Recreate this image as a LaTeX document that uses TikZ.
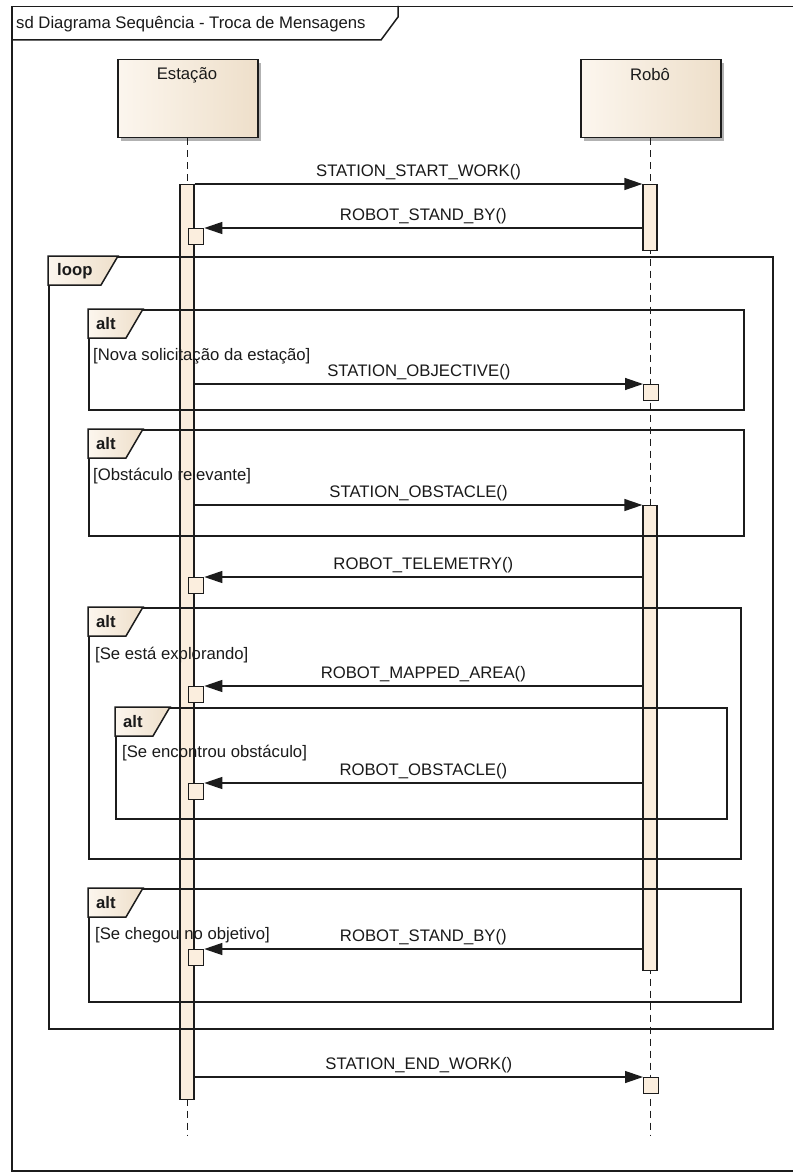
\documentclass[tikz,border=0pt]{standalone}
\usepackage{fontspec}
\setmainfont{Liberation Sans}
\usetikzlibrary{arrows.meta}
\definecolor{boxL}{HTML}{FCF6EE}
\definecolor{boxR}{HTML}{EEDFCA}
\definecolor{act}{HTML}{FBEEDE}
\definecolor{ln}{HTML}{1C1C1C}
\definecolor{txt}{HTML}{1A1A1A}
\begin{document}
\begin{tikzpicture}[x=1pt,y=-1pt,
  every node/.style={font=\fontsize{16.7}{19}\selectfont, text=txt},
  head/.style={draw=ln, line width=1.5pt, left color=boxL, right color=boxR, minimum width=140pt, minimum height=78pt, inner sep=0pt, anchor=north west},
  headshadow/.style={fill=black!30, minimum width=140pt, minimum height=78pt, inner sep=0pt, anchor=north west},
  life/.style={draw=ln, line width=1.3pt, dash pattern=on 7pt off 5pt},
  actbox/.style={draw=ln, line width=1.3pt, fill=act, minimum width=14pt, inner sep=0pt, anchor=north},
  sqbox/.style={draw=ln, line width=1.3pt, fill=act, minimum width=15pt, minimum height=16pt, inner sep=0pt, anchor=north west},
  msg/.style={draw=ln, line width=1.3pt, -{Triangle[length=18pt,width=12pt]}},
  lbl/.style={above, inner sep=3pt},
  frame/.style={draw=ln, line width=1.5pt},
  frag/.style={draw=ln, line width=1.5pt, anchor=north west, inner sep=0pt},
  tab/.style={draw=ln, line width=1.5pt, left color=boxL, right color=boxR},
  tabtxt/.style={font=\bfseries\fontsize{16.7}{19}\selectfont, anchor=west, inner sep=0pt},
  guard/.style={anchor=west, inner sep=0pt}]
\useasboundingbox (0,0) rectangle (792,1174);
\fill[white] (0,0) rectangle (792,1174);

% diagram frame (right edge lies beyond the cropped picture)
\node[frag, minimum width=790pt, minimum height=1164pt] (sd) at (11,6) {};
\draw[frame] (sd.north west |- 0,40) -- (381,40) -- (398,17) -- (398,6);
\node[anchor=west, inner sep=0pt] (title) at (16,24) {sd Diagrama Sequência - Troca de Mensagens};

% lifeline heads
\node[headshadow] (estS) at (121,63) {};
\node[head] (est) at (117,59) {};
\node[inner sep=0pt] (estT) at (187,75) {Estação};
\node[headshadow] (robS) at (584,63) {};
\node[head] (rob) at (580,59) {};
\node[inner sep=0pt] (robT) at (650,75) {Robô};

\coordinate (lend) at (0,1135);
\draw[life] (est.south) -- (est.south |- lend);
\draw[life] (rob.south) -- (rob.south |- lend);

% activations
\node[actbox, minimum height=915pt] (aE) at (187,184) {};
\node[actbox, minimum height=66pt] (aR1) at (650,184) {};
\node[actbox, minimum height=465pt] (aR2) at (650,505) {};

% fragments
\node[frag, minimum width=724pt, minimum height=772pt] (loop) at (48,256) {};
\draw[tab] (loop.north west) -- ++(70,0) -- ++(-17,29) -- ++(-53,0) -- cycle;
\node[tabtxt] (loopT) at ([xshift=9pt,yshift=-15pt]loop.north west) {loop};

\node[frag, minimum width=655pt, minimum height=100pt] (alt1) at (88,309) {};
\draw[tab] (alt1.north west) -- ++(55,0) -- ++(-17,29) -- ++(-38,0) -- cycle;
\node[tabtxt] (alt1T) at ([xshift=8pt,yshift=-15pt]alt1.north west) {alt};
\node[guard] (g1) at ([xshift=5pt,yshift=-47pt]alt1.north west) {[Nova solicitação da estação]};

\node[frag, minimum width=655pt, minimum height=106pt] (alt2) at (88,429) {};
\draw[tab] (alt2.north west) -- ++(55,0) -- ++(-17,29) -- ++(-38,0) -- cycle;
\node[tabtxt] (alt2T) at ([xshift=8pt,yshift=-15pt]alt2.north west) {alt};
\node[guard] (g2) at ([xshift=5pt,yshift=-47pt]alt2.north west) {[Obstáculo relevante]};

\node[frag, minimum width=652pt, minimum height=251pt] (alt3) at (88,607) {};
\draw[tab] (alt3.north west) -- ++(55,0) -- ++(-17,29) -- ++(-38,0) -- cycle;
\node[tabtxt] (alt3T) at ([xshift=8pt,yshift=-15pt]alt3.north west) {alt};
\node[guard] (g3) at ([xshift=7pt,yshift=-48pt]alt3.north west) {[Se está explorando]};

\node[frag, minimum width=611pt, minimum height=111pt] (alt4) at (115,707) {};
\draw[tab] (alt4.north west) -- ++(55,0) -- ++(-17,29) -- ++(-38,0) -- cycle;
\node[tabtxt] (alt4T) at ([xshift=8pt,yshift=-15pt]alt4.north west) {alt};
\node[guard] (g4) at ([xshift=7pt,yshift=-46pt]alt4.north west) {[Se encontrou obstáculo]};

\node[frag, minimum width=652pt, minimum height=113pt] (alt5) at (88,888) {};
\draw[tab] (alt5.north west) -- ++(55,0) -- ++(-17,29) -- ++(-38,0) -- cycle;
\node[tabtxt] (alt5T) at ([xshift=8pt,yshift=-15pt]alt5.north west) {alt};
\node[guard] (g5) at ([xshift=7pt,yshift=-47pt]alt5.north west) {[Se chegou no objetivo]};

% nested activation squares
\node[sqbox] (s1) at (188,228) {};
\node[sqbox] (s2) at (643,384) {};
\node[sqbox] (s3) at (188,577) {};
\node[sqbox] (s4) at (188,686) {};
\node[sqbox] (s5) at (188,783) {};
\node[sqbox] (s6) at (188,949) {};
\node[sqbox] (s7) at (643,1077) {};

% messages
\draw[msg] (aE.east |- aR1.north) -- node[lbl] (m1) {STATION\_START\_WORK()} (aR1.north west);
\draw[msg] (aR1.west |- s1.north) -- node[lbl] (m2) {ROBOT\_STAND\_BY()} (s1.north east);
\draw[msg] (aE.east |- s2.north) -- node[lbl] (m3) {STATION\_OBJECTIVE()} (s2.north west);
\draw[msg] (aE.east |- aR2.north) -- node[lbl] (m4) {STATION\_OBSTACLE()} (aR2.north west);
\draw[msg] (aR2.west |- s3.north) -- node[lbl] (m5) {ROBOT\_TELEMETRY()} (s3.north east);
\draw[msg] (aR2.west |- s4.north) -- node[lbl] (m6) {ROBOT\_MAPPED\_AREA()} (s4.north east);
\draw[msg] (aR2.west |- s5.north) -- node[lbl] (m7) {ROBOT\_OBSTACLE()} (s5.north east);
\draw[msg] (aR2.west |- s6.north) -- node[lbl] (m8) {ROBOT\_STAND\_BY()} (s6.north east);
\draw[msg] (aE.east |- s7.north) -- node[lbl] (m9) {STATION\_END\_WORK()} (s7.north west);
\end{tikzpicture}
\end{document}
